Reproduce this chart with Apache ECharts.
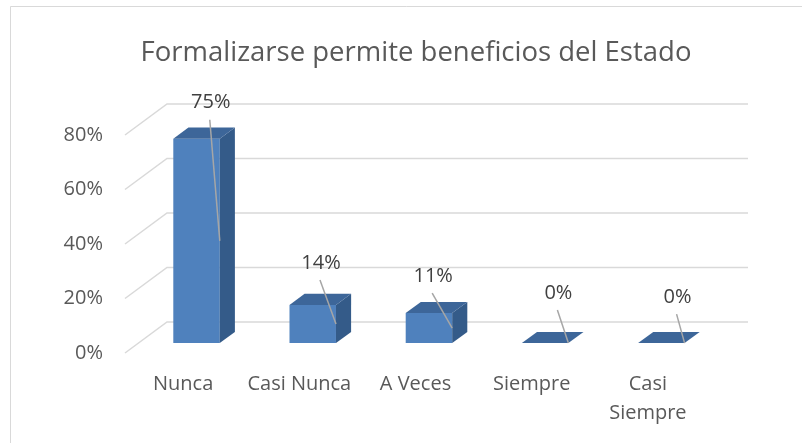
<!DOCTYPE html>
<html>
<head>
<meta charset="utf-8">
<script src="https://cdn.jsdelivr.net/npm/echarts@6/dist/echarts.min.js"></script>
<style>
html,body{margin:0;padding:0;background:#fff;}
#chart{width:802px;height:443px;}
</style>
</head>
<body>
<div id="chart"></div>
<script>
const categories = ['Nunca', 'Casi Nunca', 'A Veces', 'Siempre', 'Casi\nSiempre'];
const values = [0.75, 0.14, 0.11, 0, 0];
const valueLabels = ['75%', '14%', '11%', '0%', '0%'];
const yTicks = [0, 0.2, 0.4, 0.6, 0.8];
const titleText = 'Formalizarse permite beneficios del Estado';

// style: manual label offsets (relative to front-top-right corner of each bar)
const labelOffsets = [[-9, -36], [-15, -42], [-19, -37], [-10, -50], [-7, -46]];

const FONT = "'Open Sans', 'Noto Sans', sans-serif";
const DX = 42, DY = -31;       // depth vector of the 3D floor
const F0 = 0.32, F1 = 0.68;    // bar depth range
const GRID_COLOR = '#d9d9d9';

const chart = echarts.init(document.getElementById('chart'), null, {renderer: 'canvas'});

function renderGrid(params, api) {
  const v = api.value(1);
  const p = api.coord([0, v]);
  const cs = params.coordSys;
  const y = p[1];
  const x0 = cs.x, x1 = cs.x + cs.width;
  return {
    type: 'polyline',
    shape: {points: [[x0, y], [x0 + DX, y + DY], [x1 + DX, y + DY]]},
    style: {stroke: GRID_COLOR, lineWidth: 1.5, fill: null},
    silent: true
  };
}

function renderBar(params, api) {
  const i = api.value(0), v = api.value(1);
  const base = api.coord([i, 0]);
  const top = api.coord([i, v]);
  const bw = api.size([1, 0])[0] * 0.4;
  const ox = DX * F0, oy = DY * F0;
  const ex = DX * (F1 - F0), ey = DY * (F1 - F0);
  const xl = base[0] - bw / 2 + ox, xr = xl + bw;
  const yb = base[1] + oy, yt = top[1] + oy;
  const children = [];
  if (yb - yt > 0.5) {
    children.push({type: 'rect', shape: {x: xl, y: yt, width: bw, height: yb - yt}, style: {fill: '#4f81bd'}});
    children.push({type: 'polygon', shape: {points: [[xr, yt], [xr + ex, yt + ey], [xr + ex, yb + ey], [xr, yb]]}, style: {fill: '#345b89'}});
  }
  children.push({type: 'polygon', shape: {points: [[xl, yt], [xr, yt], [xr + ex, yt + ey], [xl + ex, yt + ey]]}, style: {fill: '#3d6699'}});
  const off = labelOffsets[params.dataIndex];
  const lx = xr + off[0], ly = yt + off[1];
  children.push({type: 'line', shape: {x1: lx - 1, y1: ly + 17, x2: xr, y2: (yt + yb) / 2}, style: {stroke: '#a6a6a6', lineWidth: 1.5}});
  children.push({type: 'text', style: {text: valueLabels[params.dataIndex], x: lx, y: ly, align: 'center', verticalAlign: 'middle', fill: '#404040', font: '20px ' + FONT}});
  return {type: 'group', children: children};
}

chart.setOption({
  animation: false,
  backgroundColor: '#ffffff',
  title: {
    text: titleText,
    left: 411,
    textAlign: 'center',
    top: 34,
    textStyle: {fontFamily: FONT, fontSize: 27.5, fontWeight: 'normal', color: '#595959', lineHeight: 28}
  },
  graphic: [{
    type: 'rect', silent: true, z: -10,
    shape: {x: 10.5, y: 6.5, width: 820, height: 460},
    style: {fill: null, stroke: GRID_COLOR, lineWidth: 1}
  }],
  grid: {left: 125, right: 96, top: 135, bottom: 90, containLabel: false},
  xAxis: {
    type: 'category',
    data: categories,
    axisLine: {show: false},
    axisTick: {show: false},
    splitLine: {show: false},
    axisLabel: {interval: 0, margin: 17, fontFamily: FONT, fontSize: 20, lineHeight: 29, color: '#595959'}
  },
  yAxis: {
    type: 'value',
    min: 0, max: 0.8, interval: 0.2,
    axisLine: {show: false},
    axisTick: {show: false},
    splitLine: {show: false},
    axisLabel: {margin: 22, padding: [5, 0, 0, 0], fontFamily: FONT, fontSize: 20, color: '#595959', formatter: v => Math.round(v * 100) + '%'}
  },
  series: [
    {type: 'custom', name: 'grid', clip: false, silent: true, z: 1, renderItem: renderGrid, data: yTicks.map(v => [0, v])},
    {type: 'custom', name: 'bars', clip: false, z: 2, renderItem: renderBar, data: values.map((v, i) => [i, v])}
  ]
});
</script>
</body>
</html>
